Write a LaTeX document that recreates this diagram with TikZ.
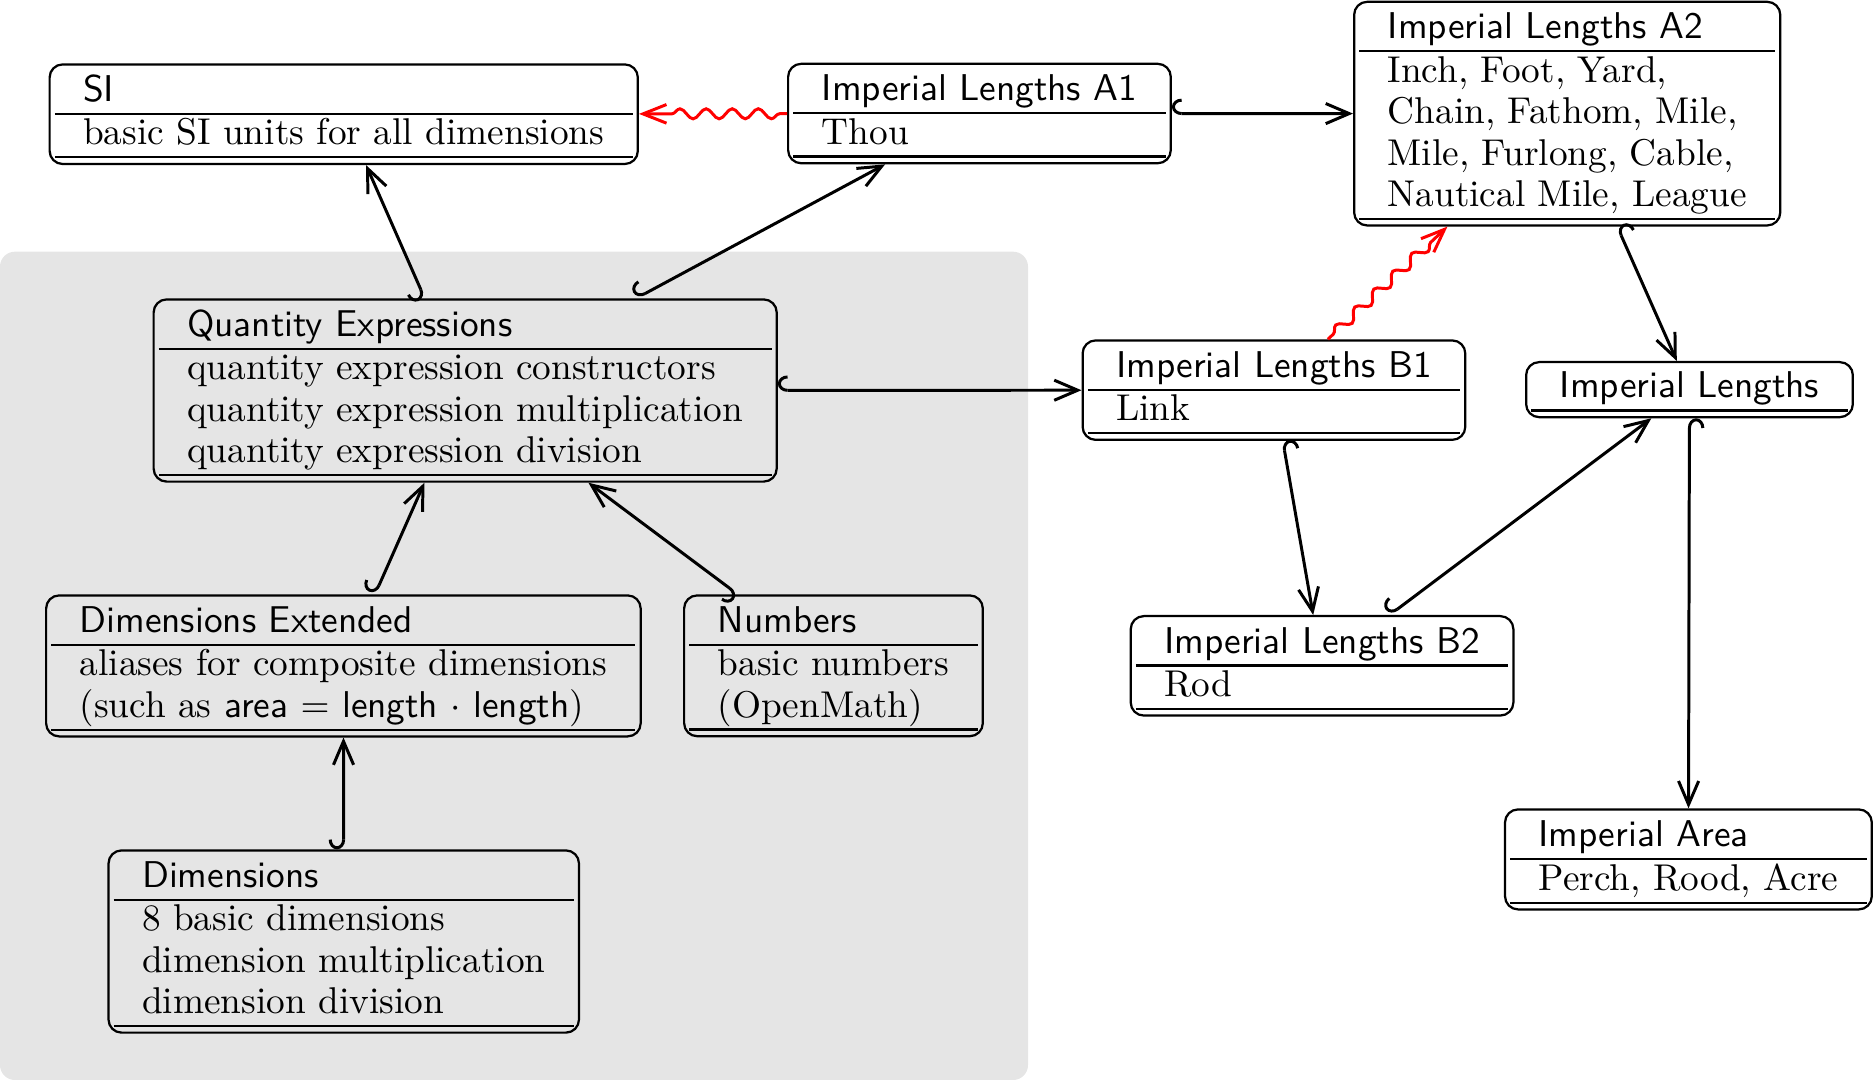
\documentclass[tikz,border=0pt]{standalone}
\usetikzlibrary{shapes.multipart,arrows.meta,decorations.pathmorphing}
\newcommand\tstrut{\rule[-2.05pt]{0pt}{10.65pt}}
\newcommand\bl[1]{\hbox{\rule[-2.9pt]{0pt}{9.9pt}#1}}
\newcommand\thybody[1]{\vbox{\baselineskip=11.1pt\lineskiplimit=-20pt #1\kern0.9pt}}
\newcommand\ttl[1]{{\sffamily\tstrut #1}}
\tikzset{
  thy/.style={rectangle split, rectangle split parts=2,
    rectangle split part align={left}, rectangle split draw splits=false,
    draw, semithick, rounded corners=3.5pt, inner xsep=9pt, inner ysep=1pt,
    anchor=north west},
  thyone/.style={rectangle, draw, semithick, rounded corners=3.5pt,
    inner xsep=9pt, inner ysep=1pt, anchor=north west},
  splitl/.style={semithick},
  incl/.style={thick, {Hooks[right,width=8pt,length=2.6pt]}-{Straight Barb[length=6.3pt,width=5.4pt]}},
  wavy/.style={red, thick, -{Straight Barb[length=6.3pt,width=5pt]}, decorate,
    decoration={snake, amplitude=1.35pt, segment length=7pt, pre length=2pt, post length=6pt}},
}
\begin{document}
\begin{tikzpicture}[x=0.2681pt, y=-0.2681pt]
\useasboundingbox (0,0) rectangle (1873,1080);
\fill[black!10, rounded corners=4pt] (0,251.7) rectangle (1028,1080);

\node[thy] (si) at (48.5,63.3) {\ttl{SI}\nodepart{two}\thybody{\bl{basic SI units for all dimensions}}};
\node[thy] (a1) at (787,62.7) {\ttl{Imperial Lengths A1}\nodepart{two}\thybody{\bl{Thou}}};
\node[thy] (a2) at (1353,0.7) {\ttl{Imperial Lengths A2}\nodepart{two}\thybody{\bl{Inch, Foot, Yard,}\bl{Chain, Fathom, Mile,}\bl{Mile, Furlong, Cable,}\bl{Nautical Mile, League}}};
\node[thy] (qe) at (152.5,298.3) {\ttl{Quantity Expressions}\nodepart{two}\thybody{\bl{quantity expression constructors}\bl{quantity expression multiplication}\bl{quantity expression division}}};
\node[thy] (b1) at (1081.5,339.3) {\ttl{Imperial Lengths B1}\nodepart{two}\thybody{\bl{Link}}};
\node[thyone] (il) at (1525,361) {\vbox{\hbox{\ttl{Imperial Lengths}}\kern2.1pt}};
\node[thy] (de) at (45,594.3) {\ttl{Dimensions Extended}\nodepart{two}\thybody{\bl{aliases for composite dimensions}\bl{(such as \textsf{area} $=$ \textsf{length} $\cdot$ \textsf{length})}}};
\node[thy] (num) at (683,594.3) {\ttl{Numbers}\nodepart{two}\thybody{\bl{basic numbers}\bl{(OpenMath)}}};
\node[thy] (b2) at (1129.6,615) {\ttl{Imperial Lengths B2}\nodepart{two}\thybody{\bl{Rod}}};
\node[thy] (ia) at (1503.9,808.3) {\ttl{Imperial Area}\nodepart{two}\thybody{\bl{Perch, Rood, Acre}}};
\node[thy] (dim) at (107.4,849.3) {\ttl{Dimensions}\nodepart{two}\thybody{\bl{8 basic dimensions}\bl{dimension multiplication}\bl{dimension division}}};

\foreach \n in {si,a1,a2,qe,b1,de,num,b2,ia,dim} {
  \draw[splitl] ([xshift=1.7pt]\n.text split west) -- ([xshift=-1.7pt]\n.text split east);
}
\foreach \n in {si,a1,a2,qe,b1,il,de,num,b2,ia,dim} {
  \draw[splitl] ([xshift=1.7pt,yshift=2.1pt]\n.south west) -- ([xshift=-1.7pt,yshift=2.1pt]\n.south east);
}

\draw[incl] (qe) -- (si);
\draw[incl] (qe) -- (a1);
\draw[incl] (a1) -- (a2);
\draw[incl] (qe) -- (b1);
\draw[incl] (de) -- (qe);
\draw[incl] (num) -- (qe);
\draw[incl] (dim) -- (de);
\draw[incl] (a2) -- (il);
\draw[incl] (b1) -- (b2);
\draw[incl] (b2) -- (il);
\draw[incl] (il) -- (ia);
\draw[wavy] (a1) -- (si);
\draw[wavy] (b1) -- (a2);
\end{tikzpicture}
\end{document}
